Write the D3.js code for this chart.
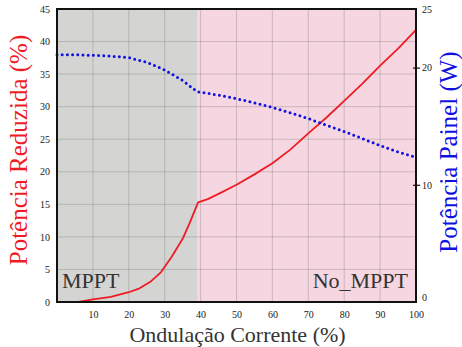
<!DOCTYPE html>
<html>
<head>
<meta charset="utf-8">
<script src="https://cdn.jsdelivr.net/npm/d3@7"></script>
<style>
  body { margin: 0; background: #fff; }
</style>
</head>
<body>
<div id="chart"></div>
<script>
// Data.
var redX = [6, 10, 15, 20, 23, 26, 29, 32, 35, 37, 39.3, 42, 45, 50, 55, 60, 65, 70, 75, 80, 85, 90, 95, 100];
var redY = [0, 0.4, 0.8, 1.5, 2.1, 3.1, 4.6, 7.0, 9.7, 12.2, 15.3, 15.8, 16.6, 18.0, 19.6, 21.3, 23.4, 25.9, 28.3, 30.9, 33.5, 36.3, 38.9, 41.8];
var blueX = [0, 5, 10, 15, 20, 25, 30, 35, 39, 40, 45, 50, 55, 60, 65, 70, 75, 80, 85, 90, 95, 100];
var blueY = [21.1, 21.1, 21.05, 20.98, 20.85, 20.45, 19.8, 18.9, 17.95, 17.9, 17.65, 17.35, 17.0, 16.6, 16.15, 15.65, 15.1, 14.55, 13.95, 13.35, 12.8, 12.35];
var xTicks = [10, 20, 30, 40, 50, 60, 70, 80, 90, 100];
var leftTicks = [0, 5, 10, 15, 20, 25, 30, 35, 40, 45];
var rightTicks = [0, 10, 20, 25];
var regions = [{ name: "MPPT", from: 0, to: 39, color: "#d4d4d2" },
               { name: "No_MPPT", from: 39, to: 100, color: "#f6d6e0" }];

var font = "'Liberation Serif', 'Times New Roman', 'Liberation Sans', 'DejaVu Sans', sans-serif";

var svgWidth = 462;
var svgHeight = 347;
var margin = { top: 9, right: 46, bottom: 45, left: 57 };
var width = svgWidth - margin.left - margin.right;
var height = svgHeight - margin.top - margin.bottom;

var svg = d3.select("#chart").append("svg")
  .attr("width", svgWidth)
  .attr("height", svgHeight)
  .attr("font-family", font);

var g = svg.append("g")
  .attr("transform", `translate(${margin.left}, ${margin.top})`);

var x = d3.scaleLinear().domain([0, 100]).range([0, width]);
var yLeft = d3.scaleLinear().domain([0, 45]).range([height, 0]);
var yRight = d3.scaleLinear().domain([0, 25]).range([height, 0]);

// Shaded regions.
g.selectAll("rect.region")
  .data(regions)
  .enter()
  .append("rect")
  .attr("class", "region")
  .attr("x", d => x(d.from))
  .attr("y", 0)
  .attr("width", d => x(d.to) - x(d.from))
  .attr("height", height)
  .attr("fill", d => d.color);

// Grid.
g.selectAll("line.vgrid")
  .data(xTicks.slice(0, -1))
  .enter()
  .append("line")
  .attr("x1", d => x(d)).attr("x2", d => x(d))
  .attr("y1", 0).attr("y2", height)
  .attr("stroke", "rgba(110,110,110,0.3)")
  .attr("stroke-width", 1);

g.selectAll("line.hgrid")
  .data(leftTicks.slice(1, -1))
  .enter()
  .append("line")
  .attr("x1", 0).attr("x2", width)
  .attr("y1", d => yLeft(d)).attr("y2", d => yLeft(d))
  .attr("stroke", "rgba(110,110,110,0.3)")
  .attr("stroke-width", 1);

// Region labels.
g.append("text")
  .attr("x", 5)
  .attr("y", height - 14)
  .attr("font-size", "22px")
  .attr("fill", "#333")
  .text(regions[0].name);

g.append("text")
  .attr("x", width - 8)
  .attr("y", height - 14)
  .attr("text-anchor", "end")
  .attr("font-size", "22px")
  .attr("fill", "#333")
  .text(regions[1].name);

// Curves.
var redLine = d3.line()
  .x((d, i) => x(redX[i]))
  .y(d => yLeft(d));

g.append("path")
  .datum(redY)
  .attr("d", redLine)
  .attr("fill", "none")
  .attr("stroke", "#ee1c24")
  .attr("stroke-width", 1.8)
  .attr("stroke-linejoin", "round");

var blueLine = d3.line()
  .x((d, i) => x(blueX[i]))
  .y(d => yRight(d));

g.append("path")
  .datum(blueY)
  .attr("d", blueLine)
  .attr("fill", "none")
  .attr("stroke", "#1010e0")
  .attr("stroke-width", 3)
  .attr("stroke-linecap", "round")
  .attr("stroke-dasharray", "0 5.2");

// Frame.
g.append("rect")
  .attr("x", 0).attr("y", 0)
  .attr("width", width).attr("height", height)
  .attr("fill", "none")
  .attr("stroke", "#111")
  .attr("stroke-width", 2);

// Axes.
var bottomAxis = d3.axisBottom(x).tickValues(xTicks).tickSize(0).tickPadding(9);
var leftAxis = d3.axisLeft(yLeft).tickValues(leftTicks).tickSize(0).tickPadding(7);
var rightAxis = d3.axisRight(yRight).tickValues(rightTicks).tickSize(4).tickPadding(2);

var gx = g.append("g")
  .attr("transform", `translate(0, ${height})`)
  .call(bottomAxis);

var gl = g.append("g").call(leftAxis);

var gr = g.append("g")
  .attr("transform", `translate(${width}, 0)`)
  .call(rightAxis);

[gx, gl, gr].forEach(function(a) {
  a.attr("font-family", font);
  a.select(".domain").remove();
  a.selectAll("text")
    .attr("font-size", "10px")
    .attr("fill", "#222");
});

gr.selectAll(".tick line")
  .attr("x1", -3)
  .attr("stroke", "#111")
  .attr("stroke-width", 1.2)
  .filter(d => d === 0 || d === 25).remove();

gr.selectAll(".tick text")
  .filter(d => d === 0)
  .attr("dy", "-0.2em");

// Axis titles.
svg.append("text")
  .attr("x", margin.left + width / 2 + 1)
  .attr("y", 342)
  .attr("text-anchor", "middle")
  .attr("font-size", "22px")
  .attr("fill", "#333")
  .text("Ondulação Corrente (%)");

svg.append("text")
  .attr("transform", `translate(27, 150) rotate(-90)`)
  .attr("text-anchor", "middle")
  .attr("font-size", "25px")
  .attr("fill", "#ee1c24")
  .text("Potência Reduzida (%)");

svg.append("text")
  .attr("transform", `translate(457, 152) rotate(-90)`)
  .attr("text-anchor", "middle")
  .attr("font-size", "25px")
  .attr("fill", "#1010e0")
  .text("Potência Painel (W)");
</script>
</body>
</html>
